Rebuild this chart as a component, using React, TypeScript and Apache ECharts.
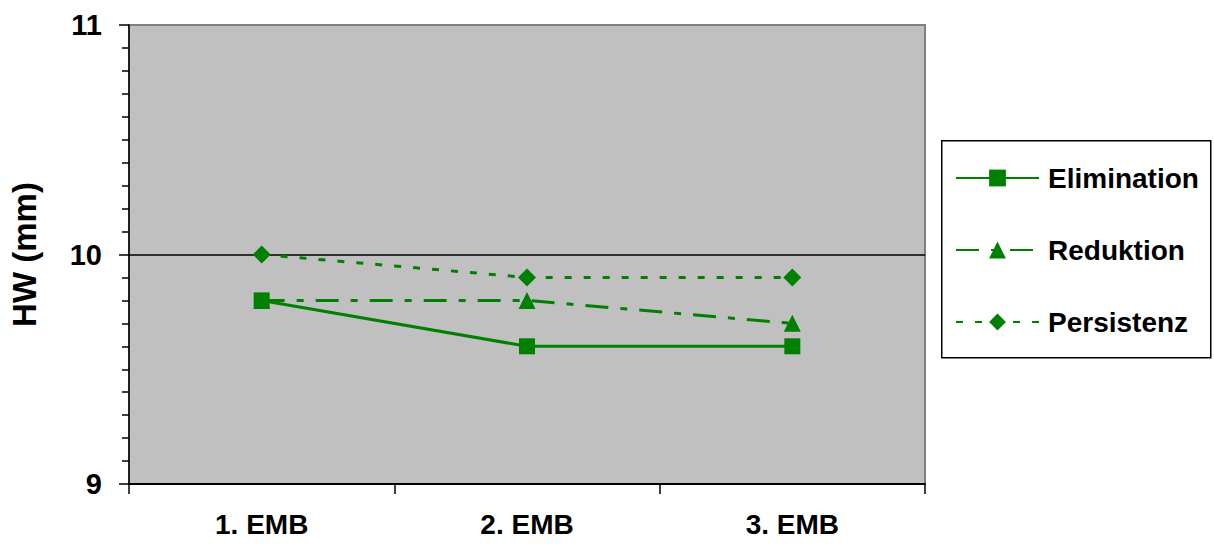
import React, { useEffect, useRef } from "react";
import * as echarts from "echarts";

// Stages on the x axis
const categories = ["1. EMB", "2. EMB", "3. EMB"];

// HW (mm) per group
const elimination = [9.8, 9.6, 9.6];
const reduktion = [9.8, 9.8, 9.7];
const persistenz = [10.0, 9.9, 9.9];

const seriesNames = ["Elimination", "Reduktion", "Persistenz"];

const GREEN = "#008000";
const FONT = "'Liberation Sans', Arial, Helvetica, sans-serif";

export default function App() {
  const ref = useRef<HTMLDivElement>(null);

  useEffect(() => {
    if (!ref.current) return;
    const chart = echarts.init(ref.current, undefined, { renderer: "svg" });

    chart.setOption({
      animation: false,
      backgroundColor: "#ffffff",
      textStyle: { fontFamily: FONT },
      grid: {
        left: 127,
        right: 289,
        top: 25,
        bottom: 61,
        show: true,
        backgroundColor: "#c0c0c0",
        borderColor: "#808080",
        borderWidth: 2,
      },
      graphic: [
        {
          type: "rect",
          left: 941,
          top: 140,
          shape: { width: 269, height: 217 },
          style: { fill: "#ffffff", stroke: "#000000", lineWidth: 1.5 },
          z: 0,
        },
      ],
      legend: {
        orient: "vertical",
        left: 955,
        top: 164,
        padding: 0,
        itemWidth: 83,
        itemHeight: 21,
        itemGap: 44,
        data: seriesNames,
        textStyle: {
          fontFamily: FONT,
          fontSize: 28,
          fontWeight: "bold",
          color: "#000",
          padding: [0, 0, 0, 4],
        },
        z: 5,
      },
      xAxis: {
        type: "category",
        data: categories,
        boundaryGap: true,
        axisLine: { lineStyle: { color: "#000", width: 2 } },
        axisTick: { show: true, interval: 0, length: 10, lineStyle: { color: "#000", width: 1.5 } },
        axisLabel: {
          margin: 26,
          fontFamily: FONT,
          fontSize: 28,
          fontWeight: "bold",
          color: "#000",
        },
      },
      yAxis: {
        type: "value",
        min: 9,
        max: 11,
        interval: 1,
        name: "HW (mm)",
        nameLocation: "middle",
        nameRotate: 90,
        nameGap: 88,
        nameTextStyle: {
          fontFamily: FONT,
          fontSize: 33,
          fontWeight: "bold",
          color: "#000",
        },
        axisLine: { show: true, lineStyle: { color: "#000", width: 1.5 } },
        axisTick: { show: true, length: 10, lineStyle: { color: "#000", width: 1.5 } },
        minorTick: { show: true, splitNumber: 10, length: 7, lineStyle: { color: "#000", width: 1.5 } },
        axisLabel: {
          margin: 27,
          fontFamily: FONT,
          fontSize: 29,
          fontWeight: "bold",
          color: "#000",
        },
        splitLine: {
          show: true,
          lineStyle: { color: ["#000000", "#000000", "#808080"], width: 1.5 },
        },
      },
      series: [
        {
          name: seriesNames[0],
          type: "line",
          data: elimination,
          symbol: "rect",
          symbolSize: 16,
          z: 4,
          itemStyle: { color: GREEN },
          lineStyle: { color: GREEN, width: 3, type: "solid" },
        },
        {
          name: seriesNames[1],
          type: "line",
          data: reduktion,
          symbol: "triangle",
          symbolSize: 17,
          z: 3,
          itemStyle: { color: GREEN },
          lineStyle: { color: GREEN, width: 3, type: [23, 12, 7, 12], cap: "butt" },
        },
        {
          name: seriesNames[2],
          type: "line",
          data: persistenz,
          symbol: "diamond",
          symbolSize: 18,
          z: 3,
          itemStyle: { color: GREEN },
          lineStyle: { color: GREEN, width: 3, type: [7, 12], cap: "butt" },
        },
      ],
    });

    return () => chart.dispose();
  }, []);

  return (
    <div
      ref={ref}
      style={{ position: "fixed", left: 0, top: 0, width: 1214, height: 545, background: "#fff" }}
    />
  );
}
